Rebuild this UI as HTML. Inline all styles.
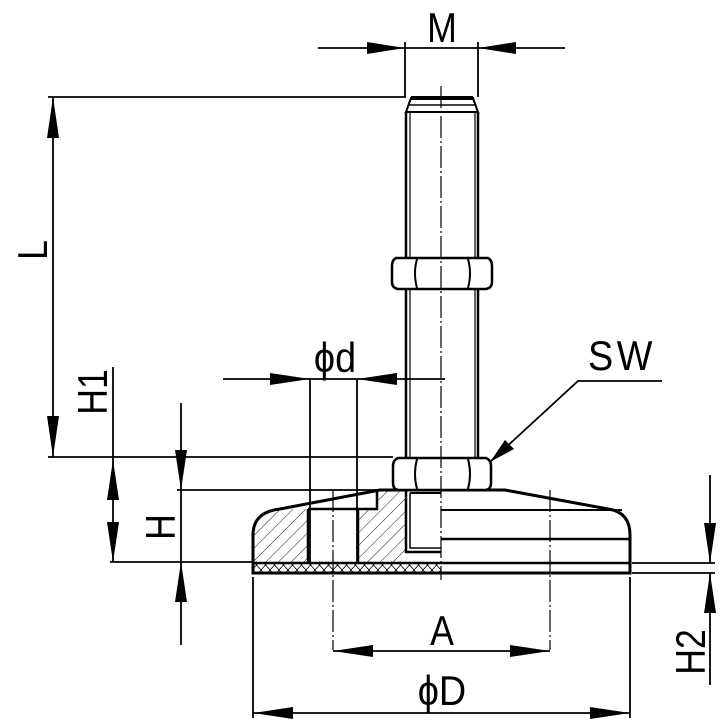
<!DOCTYPE html>
<html><head><meta charset="utf-8"><style>
html,body{margin:0;padding:0;background:#fff}
svg{display:block}
text{font-family:"Liberation Sans",sans-serif;fill:#000}
</style></head><body>
<svg width="724" height="726" viewBox="0 0 724 726" xmlns="http://www.w3.org/2000/svg">
<defs>
<pattern id="h" width="9" height="9" patternUnits="userSpaceOnUse" patternTransform="rotate(45)">
<line x1="0" y1="0" x2="0" y2="9" stroke="#000" stroke-width="0.9"/></pattern>
<pattern id="x" width="9" height="10" patternUnits="userSpaceOnUse">
<path d="M0,0 L9,10 M9,0 L0,10" stroke="#000" stroke-width="0.8"/></pattern>
</defs>
<g fill="none" stroke="#000">
<path d="M253,563 L253,535 Q253,512 280,509 L308,509 L308,563 Z" fill="url(#h)" stroke="none"/>
<path d="M358,563 L358,509 L377,509 L377,490 L406,490 L406,563 Z" fill="url(#h)" stroke="none"/>
<rect x="253" y="563" width="188" height="10" fill="url(#x)" stroke="none"/>
<path d="M253,573 L253,535 Q253,512 280,509 L380,490 L505,490 L608,509 Q630,512 630,535 L630,573 Z" stroke-width="3"/>
<line x1="253" y1="563" x2="630" y2="563" stroke-width="2.5"/>
<path d="M308,509 L377,509 L377,490" stroke-width="2.5"/>
<line x1="308" y1="509" x2="308" y2="563" stroke-width="2.5"/>
<line x1="358" y1="509" x2="358" y2="563" stroke-width="2.5"/>
<path d="M406,490 L406,552 L441,552" stroke-width="2.5"/>
<path d="M410,493 L410,548 L441,548" stroke-width="1.5"/>
<line x1="410" y1="493" x2="441" y2="493" stroke-width="2"/>
<line x1="441" y1="510" x2="622" y2="510" stroke-width="2"/>
<line x1="441" y1="539" x2="630" y2="539" stroke-width="2.5"/>
<line x1="406" y1="112" x2="406" y2="458" stroke-width="2.5"/>
<line x1="478" y1="112" x2="478" y2="458" stroke-width="2.5"/>
<line x1="410" y1="112" x2="410" y2="458" stroke-width="1.2"/>
<line x1="475" y1="112" x2="475" y2="458" stroke-width="1.2"/>
<path d="M406,112 L411,98 L473,98 L478,112 Z" stroke-width="2"/>
<line x1="411" y1="98" x2="473" y2="98" stroke-width="4"/>
<line x1="408" y1="105" x2="476" y2="105" stroke-width="1.5"/>
<path d="M396,258 L488,258 Q492,260 492,266 L492,282 Q492,288 486,289 L398,289 Q392,288 392,282 L392,266 Q392,260 396,258 Z" fill="#fff" stroke-width="2.5"/>
<path d="M417,259 Q413,273 417,288 M468,259 Q472,273 468,288" stroke-width="2"/>
<path d="M398,458 L486,458 Q491,460 491,466 L491,483 Q491,489 486,490 L398,490 Q393,489 393,483 L393,466 Q393,460 398,458 Z" fill="#fff" stroke-width="2.5"/>
<path d="M417,459 Q413,474 417,489 M468,459 Q472,474 468,489" stroke-width="2"/>
<line x1="441" y1="86" x2="441" y2="580" stroke-width="1.2" stroke-dasharray="22,3,2,3"/>
<line x1="333" y1="490" x2="333" y2="650" stroke-width="1.2" stroke-dasharray="22,3,2,3"/>
<line x1="550" y1="490" x2="550" y2="650" stroke-width="1.2" stroke-dasharray="22,3,2,3"/>
<g stroke-width="1.8">
<line x1="318" y1="48" x2="565" y2="48"/>
<line x1="405" y1="42" x2="405" y2="97"/>
<line x1="478" y1="42" x2="478" y2="97"/>
<line x1="48" y1="97" x2="406" y2="97"/>
<line x1="53" y1="97" x2="53" y2="457"/>
<line x1="48" y1="457" x2="393" y2="457"/>
<line x1="113" y1="367" x2="113" y2="562"/>
<line x1="181" y1="403" x2="181" y2="645"/>
<line x1="177" y1="490" x2="393" y2="490"/>
<line x1="110" y1="562" x2="253" y2="562"/>
<line x1="223" y1="379" x2="445" y2="379"/>
<line x1="310" y1="379" x2="310" y2="563"/>
<line x1="357" y1="379" x2="357" y2="563"/>
<path d="M662,381 L578,381 L490,462"/>
<line x1="253" y1="577" x2="253" y2="718"/>
<line x1="630" y1="577" x2="630" y2="718"/>
<line x1="333" y1="651" x2="550" y2="651"/>
<line x1="253" y1="713" x2="630" y2="713"/>
<line x1="632" y1="563" x2="715" y2="563"/>
<line x1="632" y1="573" x2="715" y2="573"/>
<line x1="710" y1="475" x2="710" y2="563"/>
<line x1="710" y1="573" x2="710" y2="685"/>
</g>
</g>
<g fill="#000">
<polygon points="405,48 367,42 367,54"/>
<polygon points="478,48 516,42 516,54"/>
<polygon points="53,97 47,138 59,138"/>
<polygon points="53,457 47,416 59,416"/>
<polygon points="113,460 107,500 119,500"/>
<polygon points="113,562 107,522 119,522"/>
<polygon points="181,490 175,450 187,450"/>
<polygon points="181,562 175,602 187,602"/>
<polygon points="310,379 270,373 270,385"/>
<polygon points="357,379 397,373 397,385"/>
<polygon points="490,462 505,440 514,449"/>
<polygon points="333,651 373,645 373,657"/>
<polygon points="550,651 510,645 510,657"/>
<polygon points="253,713 293,707 293,719"/>
<polygon points="630,713 590,707 590,719"/>
<polygon points="710,563 704,523 716,523"/>
<polygon points="710,573 704,613 716,613"/>
</g>
<g font-size="42">
<text transform="translate(442,42) scale(0.85,1)" text-anchor="middle">M</text>
<text transform="translate(442,645) scale(0.85,1)" text-anchor="middle">A</text>
<text transform="translate(442,705) scale(0.9,1)" text-anchor="middle">ϕD</text>
<text transform="translate(335,372) scale(0.9,1)" text-anchor="middle">ϕd</text>
<text transform="translate(622,370) scale(0.9,1)" text-anchor="middle" letter-spacing="4">SW</text>
<text transform="translate(47,250) rotate(-90) scale(0.85,1)" text-anchor="middle">L</text>
<text transform="translate(107,392) rotate(-90) scale(0.85,1)" text-anchor="middle">H1</text>
<text transform="translate(175,527) rotate(-90) scale(0.85,1)" text-anchor="middle">H</text>
<text transform="translate(705,652) rotate(-90) scale(0.85,1)" text-anchor="middle">H2</text>
</g>
</svg>
</body></html>
